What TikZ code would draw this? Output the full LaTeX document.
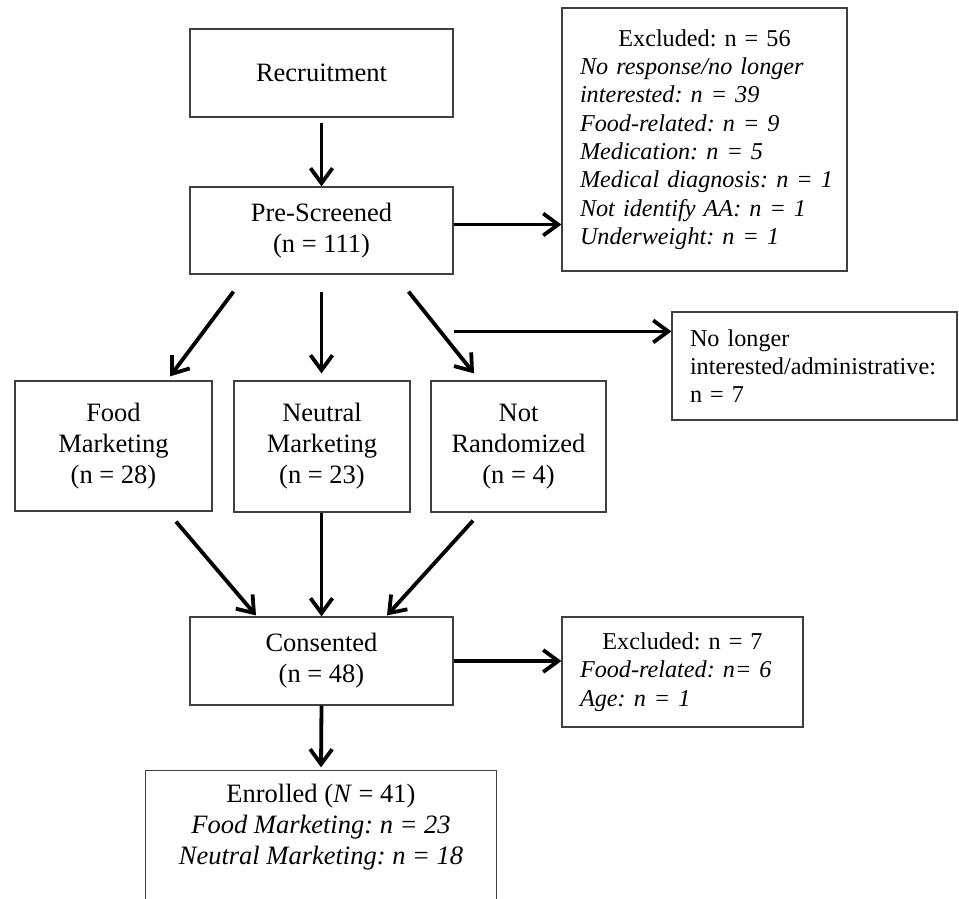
\documentclass[tikz,border=0pt]{standalone}
\usepackage{fontspec}
\setmainfont{Liberation Serif}
\usetikzlibrary{arrows.meta}
\tikzstyle{box} = [draw=black!75, line width=1.2pt, font=\fontsize{26.5}{31}\selectfont, align=center, inner sep=0pt]
\tikzstyle{note} = [draw=black!75, line width=1.2pt, font=\fontsize{24.2}{28.3}\selectfont, align=left, inner xsep=18pt, inner ysep=0pt]
\tikzstyle{arr} = [-{Straight Barb[length=15pt,width=22pt]}, line width=3.8pt]
\hyphenpenalty=10000
\frenchspacing

\begin{document}
\begin{tikzpicture}[x=1pt, y=-1pt]
    \useasboundingbox (0,0) rectangle (959,899);

    \node [box, minimum width=263pt, minimum height=88pt] (recruit) at (321.5,73) {Recruitment};
    \node [box, minimum width=263pt, minimum height=87pt] (pre_screen) at (321.5,230.5) {Pre-Screened\\(n = 111)};
    \node [note, text width=249pt, minimum height=263pt] (excl_screen) at (704.5,139.5) {
        \makebox[\linewidth]{Excluded: n = 56}\\
        \mbox{\textit{No response/no longer}}\\
        \mbox{\textit{interested: n = 39}}\\
        \mbox{\textit{Food-related: n = 9}}\\
        \mbox{\textit{Medication: n = 5}}\\
        \mbox{\textit{Medical diagnosis: n = 1}}\\
        \mbox{\textit{Not identify AA: n = 1}}\\
        \mbox{\textit{Underweight: n = 1}}
    };

    \node [box, minimum width=197pt, minimum height=130pt] (food_mkt) at (113.5,446) {Food\\Marketing\\(n = 28)};
    \node [box, minimum width=176pt, minimum height=131pt] (neutral_mkt) at (322,446.5) {Neutral\\Marketing\\(n = 23)};
    \node [box, minimum width=175pt, minimum height=131pt] (not_rand) at (518.5,446.5) {Not\\Randomized\\(n = 4)};
    \node [note, text width=249pt, minimum height=108pt] (no_longer) at (814.5,366) {
        \mbox{No longer}\\
        \mbox{interested/administrative:}\\
        \mbox{n = 7}
    };

    \node [box, minimum width=263pt, minimum height=88pt] (consent) at (321.5,661) {Consented\\(n = 48)};
    \node [note, text width=205pt, minimum height=110pt] (excl_consent) at (682.5,672) {
        \makebox[\linewidth]{Excluded: n = 7}\\
        \mbox{\textit{Food-related: n= 6}}\\
        \mbox{\textit{Age: n = 1}}
    };

    \node [box, draw=none, minimum width=350pt, minimum height=112pt] (enrolled) at (321,827) {
        Enrolled (\textit{N} = 41)\\
        \textit{Food Marketing: n = 23}\\
        \textit{Neutral Marketing: n = 18}
    };
    \draw [black!75, line width=1.2pt] ([yshift=-40pt]enrolled.south west) -- (enrolled.north west)
        -- (enrolled.north east) -- ([yshift=-40pt]enrolled.south east);

    \draw [arr] ([yshift=-5pt]recruit.south) -- (pre_screen.north);
    \draw [arr] ([yshift=6pt]pre_screen.east) -- ([yshift=6pt]pre_screen.east -| excl_screen.west);
    \draw [arr] ([xshift=-88pt,yshift=-17pt]pre_screen.south) -- ([xshift=56.5pt,yshift=4pt]food_mkt.north);
    \draw [arr] ([yshift=-17pt]pre_screen.south) -- ([yshift=7pt]pre_screen.south |- neutral_mkt.north);
    \draw [arr] ([xshift=87pt,yshift=-17pt]pre_screen.south) -- ([xshift=-44.5pt,yshift=7pt]not_rand.north);
    \draw [arr] ([yshift=-20pt]no_longer.north west -| pre_screen.east) -- ([yshift=-20pt]no_longer.north west);

    \draw [arr] ([xshift=62.5pt,yshift=-10pt]food_mkt.south) -- ([xshift=-65.5pt,yshift=1pt]consent.north);
    \draw [arr] (consent.north |- neutral_mkt.south) -- (consent.north);
    \draw [arr] ([xshift=-45.5pt,yshift=-8pt]not_rand.south) -- ([xshift=65.5pt,yshift=1pt]consent.north);
    \draw [arr] (consent.east) -- (consent.east -| excl_consent.west);
    \draw [arr] (consent.south) -- ([yshift=3pt]enrolled.north);
\end{tikzpicture}
\end{document}
